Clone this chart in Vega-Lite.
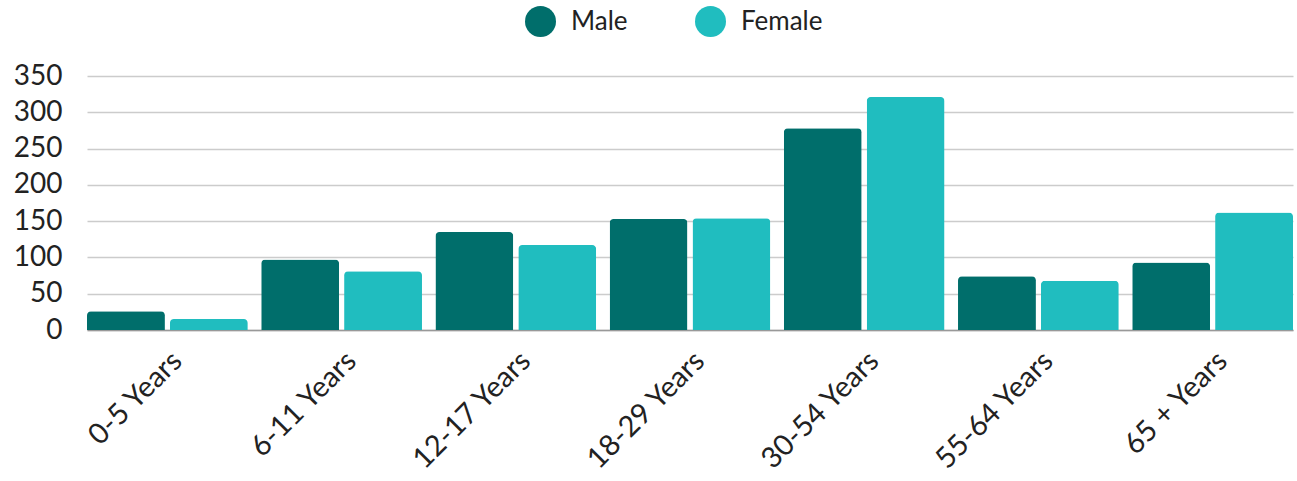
{
  "$schema": "https://vega.github.io/schema/vega-lite/v6.json",
  "width": 1206,
  "height": 254,
  "autosize": "none",
  "padding": {"left": 87, "top": 76, "right": 4, "bottom": 151},
  "background": "white",
  "config": {
    "font": "Lato",
    "view": {"stroke": null},
    "axis": {"labelColor": "#222222", "labelFont": "Lato"},
    "legend": {"labelFont": "Lato"}
  },
  "data": {
    "values": [
      {"age": "0-5 Years", "sex": "Male", "value": 26},
      {"age": "0-5 Years", "sex": "Female", "value": 15},
      {"age": "6-11 Years", "sex": "Male", "value": 97},
      {"age": "6-11 Years", "sex": "Female", "value": 81},
      {"age": "12-17 Years", "sex": "Male", "value": 135},
      {"age": "12-17 Years", "sex": "Female", "value": 117},
      {"age": "18-29 Years", "sex": "Male", "value": 153},
      {"age": "18-29 Years", "sex": "Female", "value": 154},
      {"age": "30-54 Years", "sex": "Male", "value": 278},
      {"age": "30-54 Years", "sex": "Female", "value": 321},
      {"age": "55-64 Years", "sex": "Male", "value": 74},
      {"age": "55-64 Years", "sex": "Female", "value": 68},
      {"age": "65 + Years", "sex": "Male", "value": 93},
      {"age": "65 + Years", "sex": "Female", "value": 162}
    ]
  },
  "mark": {"type": "bar", "cornerRadiusTopLeft": 4, "cornerRadiusTopRight": 4},
  "encoding": {
    "x": {
      "field": "age",
      "type": "nominal",
      "sort": null,
      "scale": {"paddingInner": 0.077, "paddingOuter": 0},
      "axis": {
        "title": null,
        "labelAngle": -45,
        "labelFontSize": 29,
        "ticks": false,
        "tickSize": 0,
        "labelPadding": 16,
        "domain": true,
        "domainColor": "#999999",
        "domainWidth": 1.5,
        "grid": false
      }
    },
    "xOffset": {
      "field": "sex",
      "type": "nominal",
      "sort": ["Male", "Female"],
      "scale": {"paddingInner": 0.06, "paddingOuter": 0}
    },
    "y": {
      "field": "value",
      "type": "quantitative",
      "scale": {"domain": [0, 350], "nice": false},
      "axis": {
        "title": null,
        "values": [0, 50, 100, 150, 200, 250, 300, 350],
        "labelFontSize": 28,
        "ticks": false,
        "tickSize": 0,
        "labelPadding": 25,
        "domain": false,
        "grid": true,
        "gridColor": "#cccccc",
        "gridWidth": 1.5
      }
    },
    "color": {
      "field": "sex",
      "type": "nominal",
      "sort": ["Male", "Female"],
      "scale": {"domain": ["Male", "Female"], "range": ["#006e6b", "#20bdbf"]},
      "legend": {
        "title": null,
        "orient": "none",
        "direction": "horizontal",
        "legendX": 438,
        "legendY": -70,
        "padding": 0,
        "symbolType": "circle",
        "symbolSize": 961,
        "symbolStrokeWidth": 0,
        "symbolOpacity": 1,
        "labelFontSize": 26,
        "labelColor": "#222222",
        "labelOffset": 15,
        "columnPadding": 67
      }
    }
  }
}
